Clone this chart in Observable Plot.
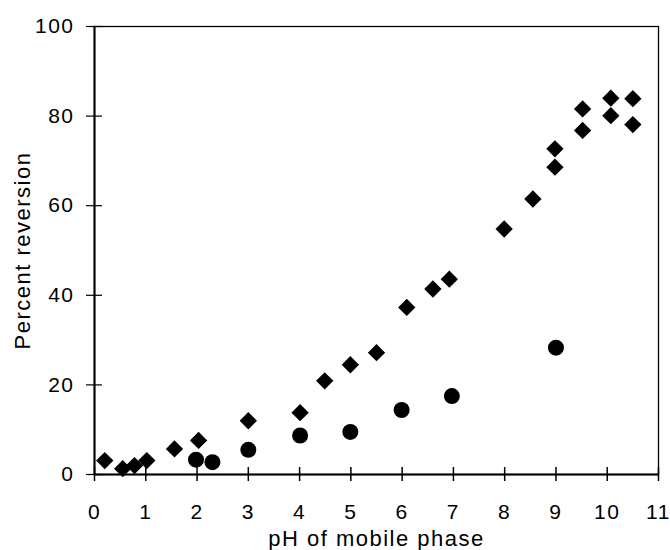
<!DOCTYPE html>
<html>
<head>
<meta charset="utf-8">
<script src="https://cdn.jsdelivr.net/npm/d3@7"></script>
<script src="https://cdn.jsdelivr.net/npm/@observablehq/plot@0.6"></script>
<style>
  html, body { margin: 0; padding: 0; background: #fff; }
  #chart svg { display: block; }
  #chart g[aria-label="x-axis tick label"] text,
  #chart g[aria-label="y-axis tick label"] text { font-size: 21px; letter-spacing: 1.5px; }
  #chart g[aria-label="x-axis label"] text,
  #chart g[aria-label="y-axis label"] text { font-size: 22px; letter-spacing: 1.5px; }
</style>
</head>
<body>
<div id="chart"></div>
<script>
// Diamond series (pH, percent reversion)
const phDiamond  = [0.2, 0.55, 0.78, 1.02, 1.56, 2.03, 3.0, 4.01, 4.49, 4.99, 5.5, 6.09, 6.6, 6.92, 7.99, 8.55, 8.98, 8.98, 9.52, 9.52, 10.07, 10.07, 10.5, 10.5];
const pctDiamond = [3.1, 1.3, 2.0, 3.1, 5.7, 7.6, 12.0, 13.8, 20.9, 24.5, 27.2, 37.3, 41.4, 43.6, 54.8, 61.5, 72.7, 68.6, 81.6, 76.8, 84.0, 80.1, 83.9, 78.1];
// Circle series
const phCircle  = [1.98, 2.3, 3.0, 4.01, 4.99, 5.99, 6.97, 9.0];
const pctCircle = [3.3, 2.75, 5.5, 8.7, 9.5, 14.4, 17.5, 28.3];

const xTicks = [0, 1, 2, 3, 4, 5, 6, 7, 8, 9, 10, 11];
const yTicks = [0, 20, 40, 60, 80, 100];
const xLabel = "pH of mobile phase";
const yLabel = "Percent reversion";

const diamonds = phDiamond.map((x, i) => ({x, y: pctDiamond[i]}));
const circles = phCircle.map((x, i) => ({x, y: pctCircle[i]}));

const chart = Plot.plot({
  width: 670,
  height: 550,
  marginLeft: 94,
  marginRight: 12,
  marginTop: 26,
  marginBottom: 76,
  style: {fontFamily: "'Liberation Sans', Arial, sans-serif", fontSize: "21px", color: "black", background: "white", overflow: "visible"},
  x: {domain: [0, 11]},
  y: {domain: [0, 100]},
  marks: [
    Plot.frame({stroke: "black", strokeWidth: 1.3}),
    Plot.ruleX([0], {stroke: "black", strokeWidth: 2}),
    Plot.ruleY([0], {stroke: "black", strokeWidth: 2}),
    Plot.ruleX(xTicks, {x: d => d, y1: 0, y2: 0, insetTop: -7, insetBottom: -7, stroke: "black", strokeWidth: 1.5}),
    Plot.ruleY(yTicks, {y: d => d, x1: 0, x2: 0, insetLeft: -8, insetRight: -8, stroke: "black", strokeWidth: 1.2}),
    Plot.axisX({ticks: xTicks, tickSize: 0, tickPadding: 30, fontSize: 21, label: xLabel, labelAnchor: "center", labelArrow: "none", labelOffset: 71}),
    Plot.axisY({ticks: yTicks, tickSize: 0, tickPadding: 20, fontSize: 21, label: yLabel, labelAnchor: "center", labelArrow: "none", labelOffset: 80}),
    Plot.dot(circles, {x: "x", y: "y", r: 8, fill: "black", stroke: null, symbol: "circle"}),
    Plot.dot(diamonds, {x: "x", y: "y", r: 7.8, fill: "black", stroke: null, symbol: "diamond2"})
  ]
});
document.getElementById("chart").appendChild(chart);
</script>
</body>
</html>
